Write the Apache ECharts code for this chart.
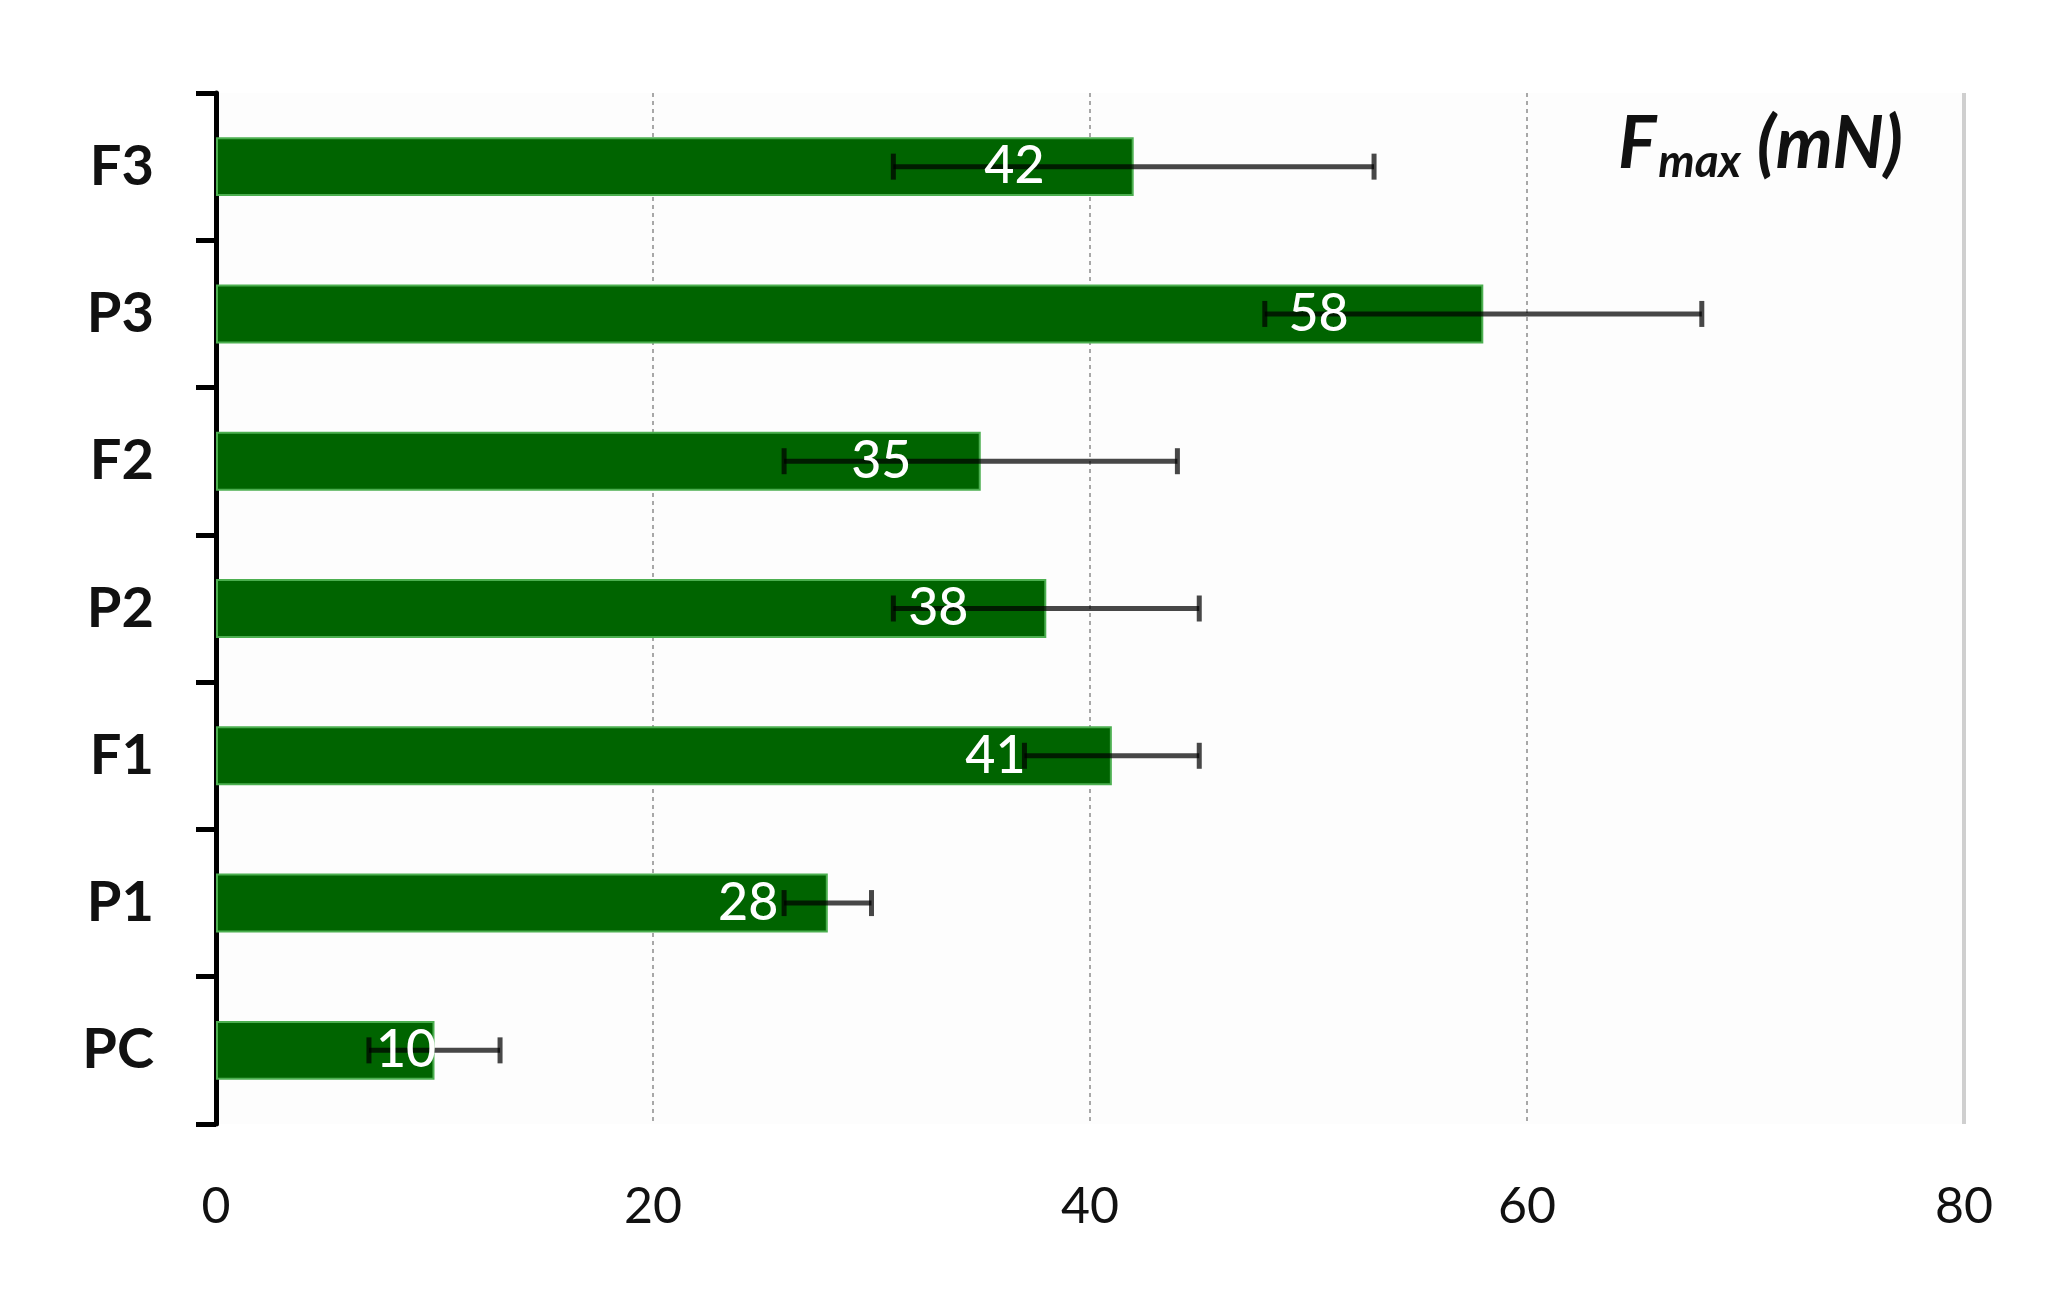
<!DOCTYPE html>
<html>
<head>
<meta charset="utf-8">
<script src="https://cdn.jsdelivr.net/npm/echarts@6/dist/echarts.min.js"></script>
<style>
  html, body { margin: 0; padding: 0; background: #fff; }
  #chart { width: 2056px; height: 1305px; }
</style>
</head>
<body>
<div id="chart"></div>
<script>
// categories bottom -> top
const categories = ['PC', 'P1', 'F1', 'P2', 'F2', 'P3', 'F3']
const fmaxValues = [10, 28, 41, 38, 35, 58, 42]
const fmaxErrors = [3, 2, 4, 7, 9, 10, 11]
const xTicks = [0, 20, 40, 60, 80]

const errData = categories.map((c, i) => [i, fmaxValues[i] - fmaxErrors[i], fmaxValues[i] + fmaxErrors[i]])

const font = 'Lato, "Open Sans", sans-serif'

const chart = echarts.init(document.getElementById('chart'))
chart.setOption({
  animation: false,
  title: {
    right: 148,
    top: 100,
    text: '{f|F}{s|max}{u| (mN)}',
    textStyle: {
      rich: {
        f: { fontFamily: font, fontSize: 72, fontStyle: 'italic', fontWeight: 'bold', color: '#111' },
        s: { fontFamily: font, fontSize: 46, fontStyle: 'italic', fontWeight: 'bold', color: '#111', verticalAlign: 'bottom', padding: [34, 0, 0, 2] },
        u: { fontFamily: font, fontSize: 72, fontStyle: 'italic', fontWeight: 'bold', color: '#111' }
      }
    }
  },
  grid: {
    left: 216,
    right: 92,
    top: 93,
    bottom: 181,
    show: true,
    backgroundColor: '#fdfdfd',
    borderWidth: 0
  },
  xAxis: {
    type: 'value',
    min: xTicks[0],
    max: xTicks[xTicks.length - 1],
    interval: 20,
    axisLine: { show: false },
    axisTick: { show: false },
    axisLabel: { fontFamily: font, fontSize: 50, color: '#111', margin: 58 },
    splitLine: {
      show: true,
      lineStyle: { color: '#a8a8a8', width: 2, type: [4, 4] }
    }
  },
  yAxis: {
    type: 'category',
    data: categories,
    axisLine: { show: true, lineStyle: { color: '#000', width: 5 } },
    axisTick: { show: true, length: 20, lineStyle: { color: '#000', width: 5 } },
    axisLabel: { fontFamily: font, fontSize: 56, fontWeight: 'bold', color: '#111', margin: 62 }
  },
  series: [
    {
      type: 'bar',
      data: fmaxValues,
      barWidth: '40%',
      z: 2,
      itemStyle: { color: '#006400', borderColor: '#4caf50', borderWidth: 2 },
      markLine: {
        silent: true,
        symbol: 'none',
        label: { show: false },
        lineStyle: { color: '#cfcfcf', width: 4, type: 'solid' },
        data: [{ xAxis: xTicks[xTicks.length - 1] }]
      }
    },
    {
      type: 'custom',
      z: 3,
      data: errData,
      renderItem(params, api) {
        const y = api.value(0)
        const lo = api.coord([api.value(1), y])
        const hi = api.coord([api.value(2), y])
        const cap = 13
        const style = { stroke: 'rgba(0,0,0,0.72)', lineWidth: 5 }
        return {
          type: 'group',
          children: [
            { type: 'line', shape: { x1: lo[0], y1: lo[1], x2: hi[0], y2: hi[1] }, style },
            { type: 'line', shape: { x1: lo[0], y1: lo[1] - cap, x2: lo[0], y2: lo[1] + cap }, style },
            { type: 'line', shape: { x1: hi[0], y1: hi[1] - cap, x2: hi[0], y2: hi[1] + cap }, style }
          ]
        }
      }
    },
    {
      type: 'bar',
      data: fmaxValues,
      barWidth: '40%',
      barGap: '-100%',
      z: 4,
      itemStyle: { color: 'rgba(0,0,0,0)' },
      label: {
        show: true,
        position: ['87%', '50%'],
        align: 'center',
        verticalAlign: 'middle',
        fontFamily: font,
        fontSize: 52,
        fontWeight: 500,
        color: '#fff'
      }
    }
  ]
})
</script>
</body>
</html>
